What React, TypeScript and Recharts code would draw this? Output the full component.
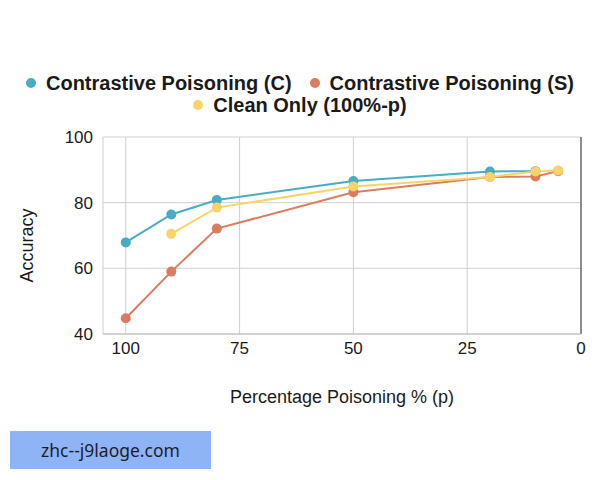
import {
  CartesianGrid,
  Legend,
  Line,
  LineChart,
  ReferenceLine,
  XAxis,
  YAxis,
} from "recharts";

const poisoning = [100, 90, 80, 50, 20, 10, 5];
const contrastiveC = [67.9, 76.4, 80.8, 86.6, 89.5, 89.6, null];
const contrastiveS = [44.8, 59.0, 72.1, 83.2, 87.8, 88.0, 89.6];
const cleanOnly = [null, 70.5, 78.5, 84.9, 87.8, 89.5, 89.8];

const xTicks = [100, 75, 50, 25, 0];
const yTicks = [40, 60, 80, 100];

const series = [
  { key: "c", name: "Contrastive Poisoning (C)", color: "#4aabc4" },
  { key: "s", name: "Contrastive Poisoning (S)", color: "#dc7c5f" },
  { key: "clean", name: "Clean Only (100%-p)", color: "#f8d468" },
];

const data = poisoning.map((p, i) => ({
  p,
  c: contrastiveC[i],
  s: contrastiveS[i],
  clean: cleanOnly[i],
}));

const font = "'Liberation Sans', Arial, sans-serif";

function LegendRows() {
  return (
    <div
      style={{
        display: "flex",
        flexWrap: "wrap",
        justifyContent: "center",
        alignContent: "flex-start",
        columnGap: 18,
        height: 65,
        fontFamily: font,
        fontWeight: 700,
        fontSize: 20,
        color: "#1a1a1a",
      }}
    >
      {series.map((s) => (
        <span
          key={s.key}
          style={{ display: "inline-flex", alignItems: "center", height: 22, lineHeight: "22px" }}
        >
          <span
            style={{
              width: 10,
              height: 10,
              borderRadius: 5,
              background: s.color,
              marginRight: 10,
            }}
          />
          {s.name}
        </span>
      ))}
    </div>
  );
}

export default function App() {
  return (
    <div
      style={{
        position: "absolute",
        left: 0,
        top: 0,
        width: 600,
        height: 480,
        background: "#fff",
      }}
    >
      <LineChart
        width={600}
        height={480}
        data={data}
        margin={{ top: 72, right: 19, bottom: 66, left: 0 }}
      >
        <CartesianGrid stroke="#cfcfcf" />
        <XAxis
          dataKey="p"
          type="number"
          domain={[0, 105]}
          reversed
          ticks={xTicks}
          height={80}
          tickLine={false}
          axisLine={{ stroke: "#bdbdbd" }}
          tick={{ fill: "#1a1a1a", fontSize: 17, fontFamily: font }}
          label={{
            value: "Percentage Poisoning % (p)",
            position: "insideBottom",
            offset: 11,
            fill: "#1a1a1a",
            fontSize: 18,
            fontFamily: font,
          }}
        />
        <YAxis
          domain={[40, 100]}
          ticks={yTicks}
          width={103}
          tickLine={false}
          axisLine={false}
          tickMargin={4}
          tick={{ fill: "#1a1a1a", fontSize: 17, fontFamily: font }}
          label={{
            value: "Accuracy",
            angle: -90,
            position: "insideLeft",
            offset: 27,
            dy: 10,
            fill: "#1a1a1a",
            fontSize: 18,
            fontFamily: font,
            style: { textAnchor: "middle" },
          }}
        />
        <ReferenceLine x={0} stroke="#333" strokeWidth={1} />
        <Legend
          verticalAlign="top"
          align="center"
          wrapperStyle={{ left: 0, width: 600 }}
          content={() => <LegendRows />}
        />
        {series.map((s) => (
          <Line
            key={s.key}
            dataKey={s.key}
            name={s.name}
            stroke={s.color}
            strokeWidth={2}
            dot={{ r: 5, fill: s.color, stroke: s.color, strokeWidth: 0 }}
            activeDot={false}
            isAnimationActive={false}
          />
        ))}
      </LineChart>
      <div
        style={{
          position: "absolute",
          left: 10,
          top: 431,
          width: 201,
          height: 38,
          background: "#8fb4f5",
          color: "#1c1c30",
          fontFamily: "'Noto Sans', sans-serif",
          fontSize: 17.5,
          lineHeight: "38px",
          textAlign: "center",
        }}
      >
        zhc--j9laoge.com
      </div>
    </div>
  );
}
